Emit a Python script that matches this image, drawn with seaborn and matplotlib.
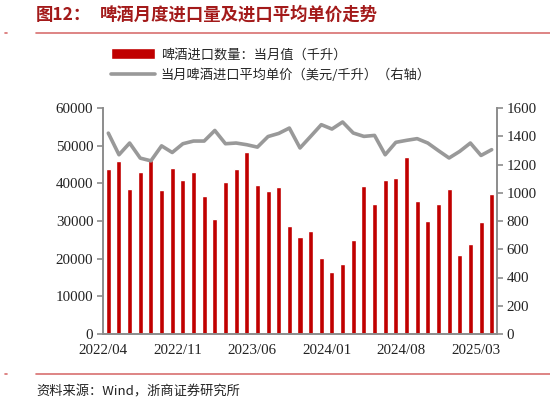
import matplotlib
matplotlib.use("Agg")
import matplotlib.pyplot as plt
from matplotlib.lines import Line2D
import numpy as np
import pandas as pd
import seaborn as sns

sns.set_theme(style="white")
plt.rcParams['font.family'] = ['Noto Sans CJK SC', 'DejaVu Sans']

# 月份：2022/04 - 2025/04
months = pd.period_range("2022-04", "2025-04", freq="M").strftime("%Y/%m").tolist()

# 啤酒进口数量：当月值（千升）
volume = [43900, 46000, 38600, 43000, 46100, 38300, 44100, 40800, 43000, 36600,
          30600, 40300, 43700, 48300, 39500, 38000, 39100, 28600, 25700, 27400,
          20100, 16500, 18700, 25000, 39400, 34400, 41000, 41400, 47000, 35400,
          30000, 34400, 38600, 20900, 23800, 29700, 37300]

# 当月啤酒进口平均单价（美元/千升）
price = [1422, 1269, 1352, 1245, 1226, 1332, 1285, 1347, 1366, 1366,
         1441, 1347, 1352, 1340, 1323, 1398, 1420, 1458, 1317, 1399,
         1482, 1451, 1501, 1423, 1399, 1406, 1269, 1357, 1371, 1383,
         1352, 1298, 1246, 1293, 1352, 1264, 1305]

tick_labels = ["2022/04", "2022/11", "2023/06", "2024/01", "2024/08", "2025/03"]

df = pd.DataFrame({"month": months, "volume": volume, "price": price,
                   "pos": np.arange(len(months))})

RED = "#C00000"
GRAY = "#999999"
AXC = "#8c8c8c"
NUM_FONT = "Liberation Serif"

fig = plt.figure(figsize=(5.5, 4.03), dpi=100)
ax = fig.add_axes([103 / 550, 1 - 334 / 403, 394 / 550, 226 / 403])
ax2 = ax.twinx()

sns.barplot(data=df, x="month", y="volume", color=RED, width=0.47,
            saturation=1, ax=ax, label="啤酒进口数量：当月值（千升）")
sns.lineplot(data=df, x="pos", y="price", color=GRAY, linewidth=2.6,
             ax=ax2, label="当月啤酒进口平均单价（美元/千升）（右轴）")

ax.set_xlim(-0.5, len(months) - 0.5)
ax.set_ylim(0, 60000)
ax2.set_ylim(0, 1600)
ax.set_yticks(range(0, 60001, 10000))
ax2.set_yticks(range(0, 1601, 200))
ax.set_xticks(np.arange(len(tick_labels)) * 7 - 0.5)
ax.set_xticklabels(tick_labels)
ax.set_xlabel("")
ax.set_ylabel("")
ax2.set_ylabel("")

for a in (ax, ax2):
    for s in a.spines.values():
        s.set_visible(False)
    a.grid(False)
    a.tick_params(colors="#222222", labelsize=10.8, length=4, width=1.2,
                  direction="out", pad=3)
    for lbl in a.get_xticklabels() + a.get_yticklabels():
        lbl.set_fontfamily(NUM_FONT)
    if a.get_legend():
        a.get_legend().remove()

ax.tick_params(axis="both", color=AXC)
ax2.tick_params(axis="y", color=AXC)
ax.spines["left"].set_visible(True)
ax.spines["bottom"].set_visible(True)
ax2.spines["right"].set_visible(True)
for s in (ax.spines["left"], ax.spines["bottom"], ax2.spines["right"]):
    s.set_color(AXC)
    s.set_linewidth(1.4)
ax2.set_xlim(ax.get_xlim())

# 图例
h1, l1 = ax.get_legend_handles_labels()
h2, l2 = ax2.get_legend_handles_labels()
fig.legend(h1 + h2, l1 + l2, loc="upper left",
           bbox_to_anchor=(106 / 550, 1 - 43 / 403), frameon=False,
           fontsize=9.5, handlelength=3.3, handleheight=0.9,
           handletextpad=0.45, labelspacing=0.55, borderaxespad=0)

# 标题与来源
fig.text(36 / 550, 1 - 15 / 403, "图12：", color="#A31A1A", fontsize=12.5,
         fontweight="bold", va="center", ha="left")
fig.text(100 / 550, 1 - 15 / 403, "啤酒月度进口量及进口平均单价走势",
         color="#A31A1A", fontsize=12.5, fontweight="bold", va="center", ha="left")
fig.add_artist(Line2D([36 / 550, 1], [1 - 33 / 403] * 2, color="#D87070", lw=1.2))
fig.add_artist(Line2D([36 / 550, 1], [1 - 374 / 403] * 2, color="#D87070", lw=1.2))
fig.add_artist(Line2D([5 / 550, 7 / 550], [1 - 33 / 403] * 2, color="#D87070", lw=1.2))
fig.add_artist(Line2D([5 / 550, 7 / 550], [1 - 374 / 403] * 2, color="#D87070", lw=1.2))
fig.text(36 / 550, 1 - 392 / 403, "资料来源：Wind，浙商证券研究所", color="#222222",
         fontsize=9.5, va="center", ha="left")

fig.savefig("out.png", dpi=100)
